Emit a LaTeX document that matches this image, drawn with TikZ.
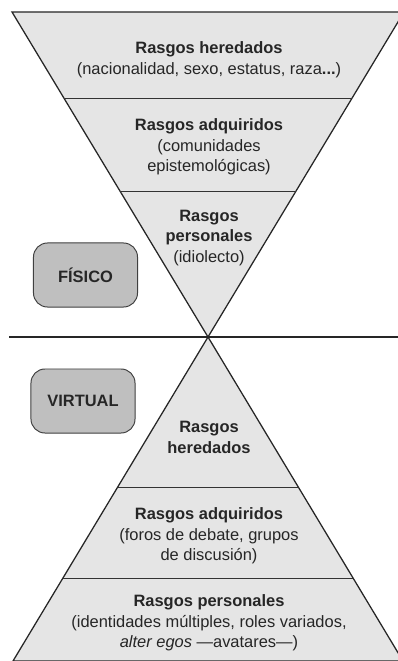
\documentclass[tikz,border=0pt]{standalone}
\usepackage{fontspec}
\setmainfont{Liberation Sans}
\usetikzlibrary{calc}
\begin{document}
\begin{tikzpicture}
  [x=0.025cm,y=-0.025cm,
   tri/.style={draw=black!85,line width=0.9pt,fill=gray!20},
   sep/.style={draw=black!80,line width=0.6pt},
   lbl/.style={align=center,text=black!85,font=\fontsize{11.7}{14.6}\selectfont},
   zone/.style={lbl,draw=black!75,line width=0.7pt,fill=gray!50,rounded corners=0.35cm,
     minimum width=2.6cm,minimum height=1.6cm,font=\fontsize{11.7}{14.6}\selectfont\bfseries}]
  \useasboundingbox (0,0) rectangle (398,661);
  \clip (0,0) rectangle (398,661);
  \coordinate (ap) at (208,337);
  \coordinate (tl) at (12,12);
  \coordinate (tr) at (404,12);
  \coordinate (bl) at (13,661);
  \coordinate (br) at (403,661);
  \coordinate (hl) at (9,337);
  \coordinate (hr) at (398,337);
  \draw[tri] (tl) -- (tr) -- (ap) -- cycle;
  \draw[tri] (ap) -- (br) -- (bl) -- cycle;
  \foreach \t/\s in {.735/t,.449/t,.463/b,.744/b}
    \draw[sep] ($(ap)!\t!(\s l)$) -- ($(ap)!\t!(\s r)$);
  \draw[line width=1.3pt,black!85] (hl) -- (hr);
  \node[zone] (fisico) at (85.5,275) {FÍSICO};
  \node[zone] (virtual) at (83,401) {VIRTUAL};
  \node[lbl] (her1) at (209,60) {\textbf{Rasgos heredados}\\(nacionalidad, sexo, estatus, raza\textbf{...})};
  \node[lbl] (adq1) at (209,147) {\textbf{Rasgos adquiridos}\\(comunidades\\epistemológicas)};
  \node[lbl] (per1) at (209,238) {\textbf{Rasgos}\\\textbf{personales}\\(idiolecto)};
  \node[lbl] (her2) at (209,437.5) {\textbf{Rasgos}\\\textbf{heredados}};
  \node[lbl] (adq2) at (209,536) {\textbf{Rasgos adquiridos}\\(foros de debate, grupos\\de discusión)};
  \node[lbl] (per2) at (209,623) {\textbf{Rasgos personales}\\(identidades múltiples, roles variados,\\\textit{alter egos} ---avatares---)};
\end{tikzpicture}
\end{document}
